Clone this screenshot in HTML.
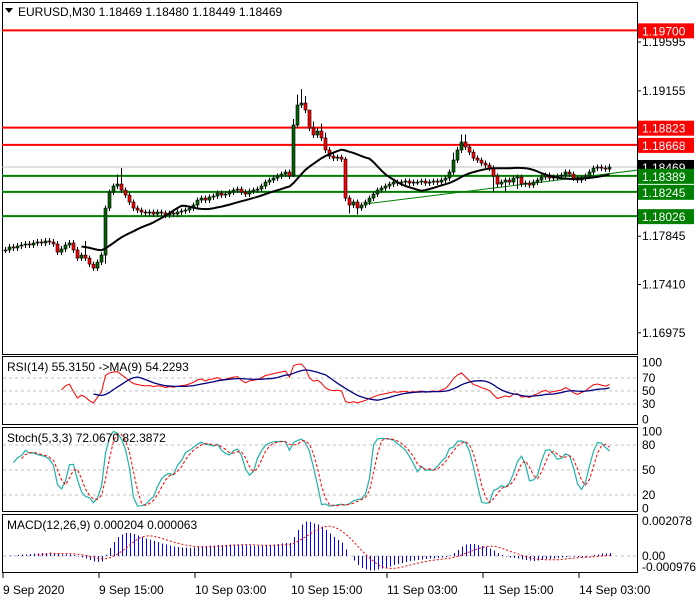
<!DOCTYPE html>
<html><head><meta charset="utf-8">
<style>
html,body{margin:0;padding:0;background:#fff;}
svg{display:block;font-family:"Liberation Sans",sans-serif;}
</style></head>
<body>
<svg id="c" width="700" height="600" viewBox="0 0 700 600"></svg>
<script>
const closes=[1.17721,1.17748,1.17739,1.17757,1.17766,1.17775,1.17766,1.17784,1.17793,1.17784,1.17802,1.17793,1.17775,1.17702,1.17730,1.17766,1.17784,1.17721,1.17648,1.17675,1.17648,1.17594,1.17558,1.17612,1.17675,
1.18099,
1.18243,1.18297,1.18315,1.18261,1.18216,1.18153,
1.18099,1.18081,1.18063,1.18054,1.18063,1.18045,1.18063,1.18054,1.18036,1.18054,1.18045,1.18063,
1.18072,1.18081,1.18099,1.18126,1.18171,1.18189,1.18171,1.18198,1.18207,1.18234,1.18216,1.18225,1.18243,1.18261,1.18270,1.18243,1.18225,1.18252,1.18261,1.18270,
1.18297,1.18333,1.18351,1.18369,1.18387,1.18405,1.18423,1.18387,
1.18847,
1.19027,1.19045,1.18982,1.18820,1.18757,1.18793,1.18730,1.18622,1.18567,
1.18549,1.18558,1.18540,
1.18189,
1.18126,1.18153,1.18099,1.18126,1.18153,1.18189,1.18225,1.18261,
1.18279,1.18297,1.18315,1.18333,1.18324,1.18333,1.18342,1.18324,1.18333,1.18333,1.18342,1.18324,1.18333,1.18342,1.18333,
1.18351,1.18369,1.18423,1.18531,1.18622,
1.18694,1.18649,1.18603,1.18549,1.18531,1.18504,1.18486,
1.18459,1.18387,1.18315,1.18333,1.18351,1.18333,1.18369,1.18378,
1.18315,1.18324,1.18306,1.18333,1.18351,1.18378,1.18396,
1.18369,1.18378,1.18387,1.18396,1.18423,1.18405,1.18369,1.18351,1.18369,
1.18387,1.18423,1.18459,1.18468,1.18459,1.18450,1.18469];
const highOverrides={20:1.17800,28:1.18400,29:1.18460,72:1.18900,73:1.19120,74:1.19171,75:1.19110,76:1.18960,77:1.18880,79:1.18860,80:1.18780,85:1.18560,112:1.18600,114:1.18760,115:1.18760};
const lowOverrides={25:1.17600,72:1.18380,86:1.18050,88:1.18040,122:1.18250,125:1.18250,128:1.18270};
const hLevels=[1.19700,1.18823,1.18668];
const gLevels=[1.18389,1.18245,1.18026];
const currentPrice=1.18469;
const priceTicks=[1.19595,1.19155,1.17845,1.17410,1.16975];
const timeLabels=["9 Sep 2020","9 Sep 15:00","10 Sep 03:00","10 Sep 15:00","11 Sep 03:00","11 Sep 15:00","14 Sep 03:00"];
const timeLabelBars=[0,24,48,72,96,120,144];
const rsiTicks=[100,70,50,30,0];
const stochTicks=[100,80,50,20,0];

const NS="http://www.w3.org/2000/svg";
const svg=document.getElementById('c');
function mk(tag,attrs,parent){const e=document.createElementNS(NS,tag);for(const k in attrs)e.setAttribute(k,attrs[k]);(parent||svg).appendChild(e);return e;}
const X=i=>5.5+4*(i+0.5)-2;
const Y=p=>42+(1.19595-p)/0.0000901;
const L=2,R=637;

let f;
f=mk('rect',{x:2.5,y:2.5,width:R-2,height:352,fill:'none',stroke:'#000'});


f=mk('rect',{x:2.5,y:356.5,width:R-2,height:68,fill:'none',stroke:'#000'});


f=mk('rect',{x:2.5,y:427.5,width:R-2,height:84,fill:'none',stroke:'#000'});


f=mk('rect',{x:2.5,y:514.5,width:R-2,height:58,fill:'none',stroke:'#000'});



let e=mk('line',{x1:L,x2:R,y1:Y(currentPrice),y2:Y(currentPrice),stroke:'#c0c0c0'});


e=mk('line',{x1:365,y1:Y(1.18135),x2:R,y2:Y(1.18440),stroke:'#008000','stroke-width':1});


hLevels.forEach(v=>{const l=mk('line',{x1:L,x2:R,y1:Y(v),y2:Y(v),stroke:'#ff0000','stroke-width':2});

});
gLevels.forEach(v=>{const l=mk('line',{x1:L,x2:R,y1:Y(v),y2:Y(v),stroke:'#008000','stroke-width':2});

});

for(let i=0;i<closes.length;i++){
  const c=closes[i],o=i?closes[i-1]:c;
  const hi=highOverrides[i]!==undefined?highOverrides[i]:Math.max(o,c)+0.00025;
  const lo=lowOverrides[i]!==undefined?lowOverrides[i]:Math.min(o,c)-0.00025;
  const x=X(i);
  const w=mk('line',{x1:x,x2:x,y1:Y(hi),y2:Y(lo),stroke:'#000','shape-rendering':'crispEdges'});
  
  
  const top=Y(Math.max(o,c)),bot=Y(Math.min(o,c));
  const b=mk('rect',{x:x-1.5,y:top,width:3,height:Math.max(1,bot-top),fill:c>=o?'#006400':'#ff0000',stroke:'#000','stroke-width':0.6});
  
  
}
function sma(a,n){return a.map((v,i)=>{if(i<n-1)return null;let s=0;for(let k=i-n+1;k<=i;k++)s+=a[k];return s/n;});}
function ema(a,n){const k=2/(n+1);let r=[];a.forEach((v,i)=>r.push(i?v*k+r[i-1]*(1-k):v));return r;}
function poly(vals,fx,fy,attrs,name){let d='';vals.forEach((v,i)=>{if(v==null||isNaN(v))return;d+=(d?'L':'M')+fx(i).toFixed(1)+' '+fy(v).toFixed(1);});const p=mk('path',Object.assign({d:d,fill:'none'},attrs));return p;}
const ma=sma(closes,20);
poly(ma,X,Y,{stroke:'#000','stroke-width':2},'moving-average-line');

priceTicks.forEach(v=>{mk('line',{x1:R,x2:R+4,y1:Y(v),y2:Y(v),stroke:'#000'});
const t=mk('text',{x:642,y:Y(v)+4,'font-size':12,fill:'#000'});t.textContent=v.toFixed(5);

});
function tag(v,bg){const y=Y(v);const r=mk('rect',{x:638,y:y-7,width:56,height:15,fill:bg});


const t=mk('text',{x:642,y:y+5,'font-size':12,fill:'#fff'});t.textContent=v.toFixed(5);

}
hLevels.forEach(v=>tag(v,'#ff0000'));
tag(currentPrice,'#000');
gLevels.forEach(v=>tag(v,'#008000'));

e=mk('path',{d:'M5 8 L13 8 L9 13 Z',fill:'#000'});


e=mk('text',{x:18,y:16,'font-size':12,fill:'#000'});e.textContent='EURUSD,M30  1.18469 1.18480 1.18449 1.18469';



const n=closes.length;
let rsi=new Array(n).fill(null);{let ag=0,al=0;for(let i=1;i<n;i++){const d=closes[i]-closes[i-1];const g=Math.max(d,0),l=Math.max(-d,0);if(i<=14){ag+=g/14;al+=l/14;if(i==14)rsi[i]=100-100/(1+ag/(al||1e-9));}else{ag=(ag*13+g)/14;al=(al*13+l)/14;rsi[i]=100-100/(1+ag/(al||1e-9));}}}
const rsiMa=rsi.map((v,i)=>{if(i<22)return null;let s=0;for(let k=i-8;k<=i;k++)s+=rsi[k];return s/9;});
const RY=v=>423.5-0.65*v;
[70,50,30].forEach(v=>mk('line',{x1:L+1,x2:R,y1:RY(v),y2:RY(v),stroke:'#c0c0c0','stroke-dasharray':'3 3'}));
poly(rsi,X,RY,{stroke:'#ff0000','stroke-width':1},'rsi-line');
poly(rsiMa,X,RY,{stroke:'#000080','stroke-width':1.3},'rsi-ma-line');
rsiTicks.forEach(v=>{const t=mk('text',{x:642,y:RY(v)+4+(v==100?4:0)+(v==0?-4:0),'font-size':12});t.textContent=v;

});
e=mk('text',{x:7,y:371,'font-size':12});e.textContent='RSI(14) 55.3150  ->MA(9) 54.2293';



const highs=closes.map((c,i)=>highOverrides[i]!==undefined?highOverrides[i]:Math.max(i?closes[i-1]:c,c)+0.00025);
const lows=closes.map((c,i)=>lowOverrides[i]!==undefined?lowOverrides[i]:Math.min(i?closes[i-1]:c,c)-0.00025);
let kNum=[],kDen=[];for(let i=0;i<n;i++){const a=Math.max(0,i-4);const hh=Math.max(...highs.slice(a,i+1)),ll=Math.min(...lows.slice(a,i+1));kNum.push(closes[i]-ll);kDen.push(hh-ll);}
const K=kNum.map((v,i)=>{if(i<2)return null;let s=0,d=0;for(let k=i-2;k<=i;k++){s+=kNum[k];d+=kDen[k];}return 100*s/d;});
const D=K.map((v,i)=>{if(i<4)return null;return (K[i]+K[i-1]+K[i-2])/3;});
const SY=v=>511.7-0.833*v;
[80,50,20].forEach(v=>mk('line',{x1:L+1,x2:R,y1:SY(v),y2:SY(v),stroke:'#c0c0c0','stroke-dasharray':'3 3'}));
poly(K,X,SY,{stroke:'#20b2aa','stroke-width':1.2},'stoch-main-line');
poly(D,X,SY,{stroke:'#ff0000','stroke-width':1,'stroke-dasharray':'3 2'},'stoch-signal-line');
stochTicks.forEach(v=>{const t=mk('text',{x:642,y:SY(v)+4+(v==100?3:0)+(v==0?-3:0),'font-size':12});t.textContent=v;

});
e=mk('text',{x:7,y:442,'font-size':12});e.textContent='Stoch(5,3,3) 72.0670 82.3872';



const e12=ema(closes,12),e26=ema(closes,26);
const macd=closes.map((c,i)=>e12[i]-e26[i]);
const sig=macd.map((v,i)=>{if(i<8)return null;let s=0;for(let k=i-8;k<=i;k++)s+=macd[k];return s/9;});
const MY=v=>556-v*17300;
mk('line',{x1:L+1,x2:R,y1:556,y2:556,stroke:'#c0c0c0','stroke-dasharray':'3 3'});
macd.forEach((v,i)=>{const l=mk('line',{x1:Math.round(X(i))+0.5,x2:Math.round(X(i))+0.5,y1:556,y2:Math.max(516,Math.min(572,MY(v))),stroke:'#0000ff','shape-rendering':'crispEdges'});

});
poly(sig,X,v=>Math.max(516,Math.min(572,MY(v))),{stroke:'#ff0000','stroke-width':1,'stroke-dasharray':'2 2'},'macd-signal-line');
[['0.002078',525],['0.00',560],['-0.000976',571]].forEach(a=>{const t=mk('text',{x:642,y:a[1],'font-size':12});t.textContent=a[0];

});
e=mk('text',{x:7,y:529,'font-size':12});e.textContent='MACD(12,26,9) 0.000204 0.000063';



timeLabels.forEach((s,k)=>{const x=3+4*timeLabelBars[k];mk('line',{x1:x,x2:x,y1:573,y2:578,stroke:'#000'});
const t=mk('text',{x:x,y:594,'font-size':12});t.textContent=s;

});
</script>
</body></html>
